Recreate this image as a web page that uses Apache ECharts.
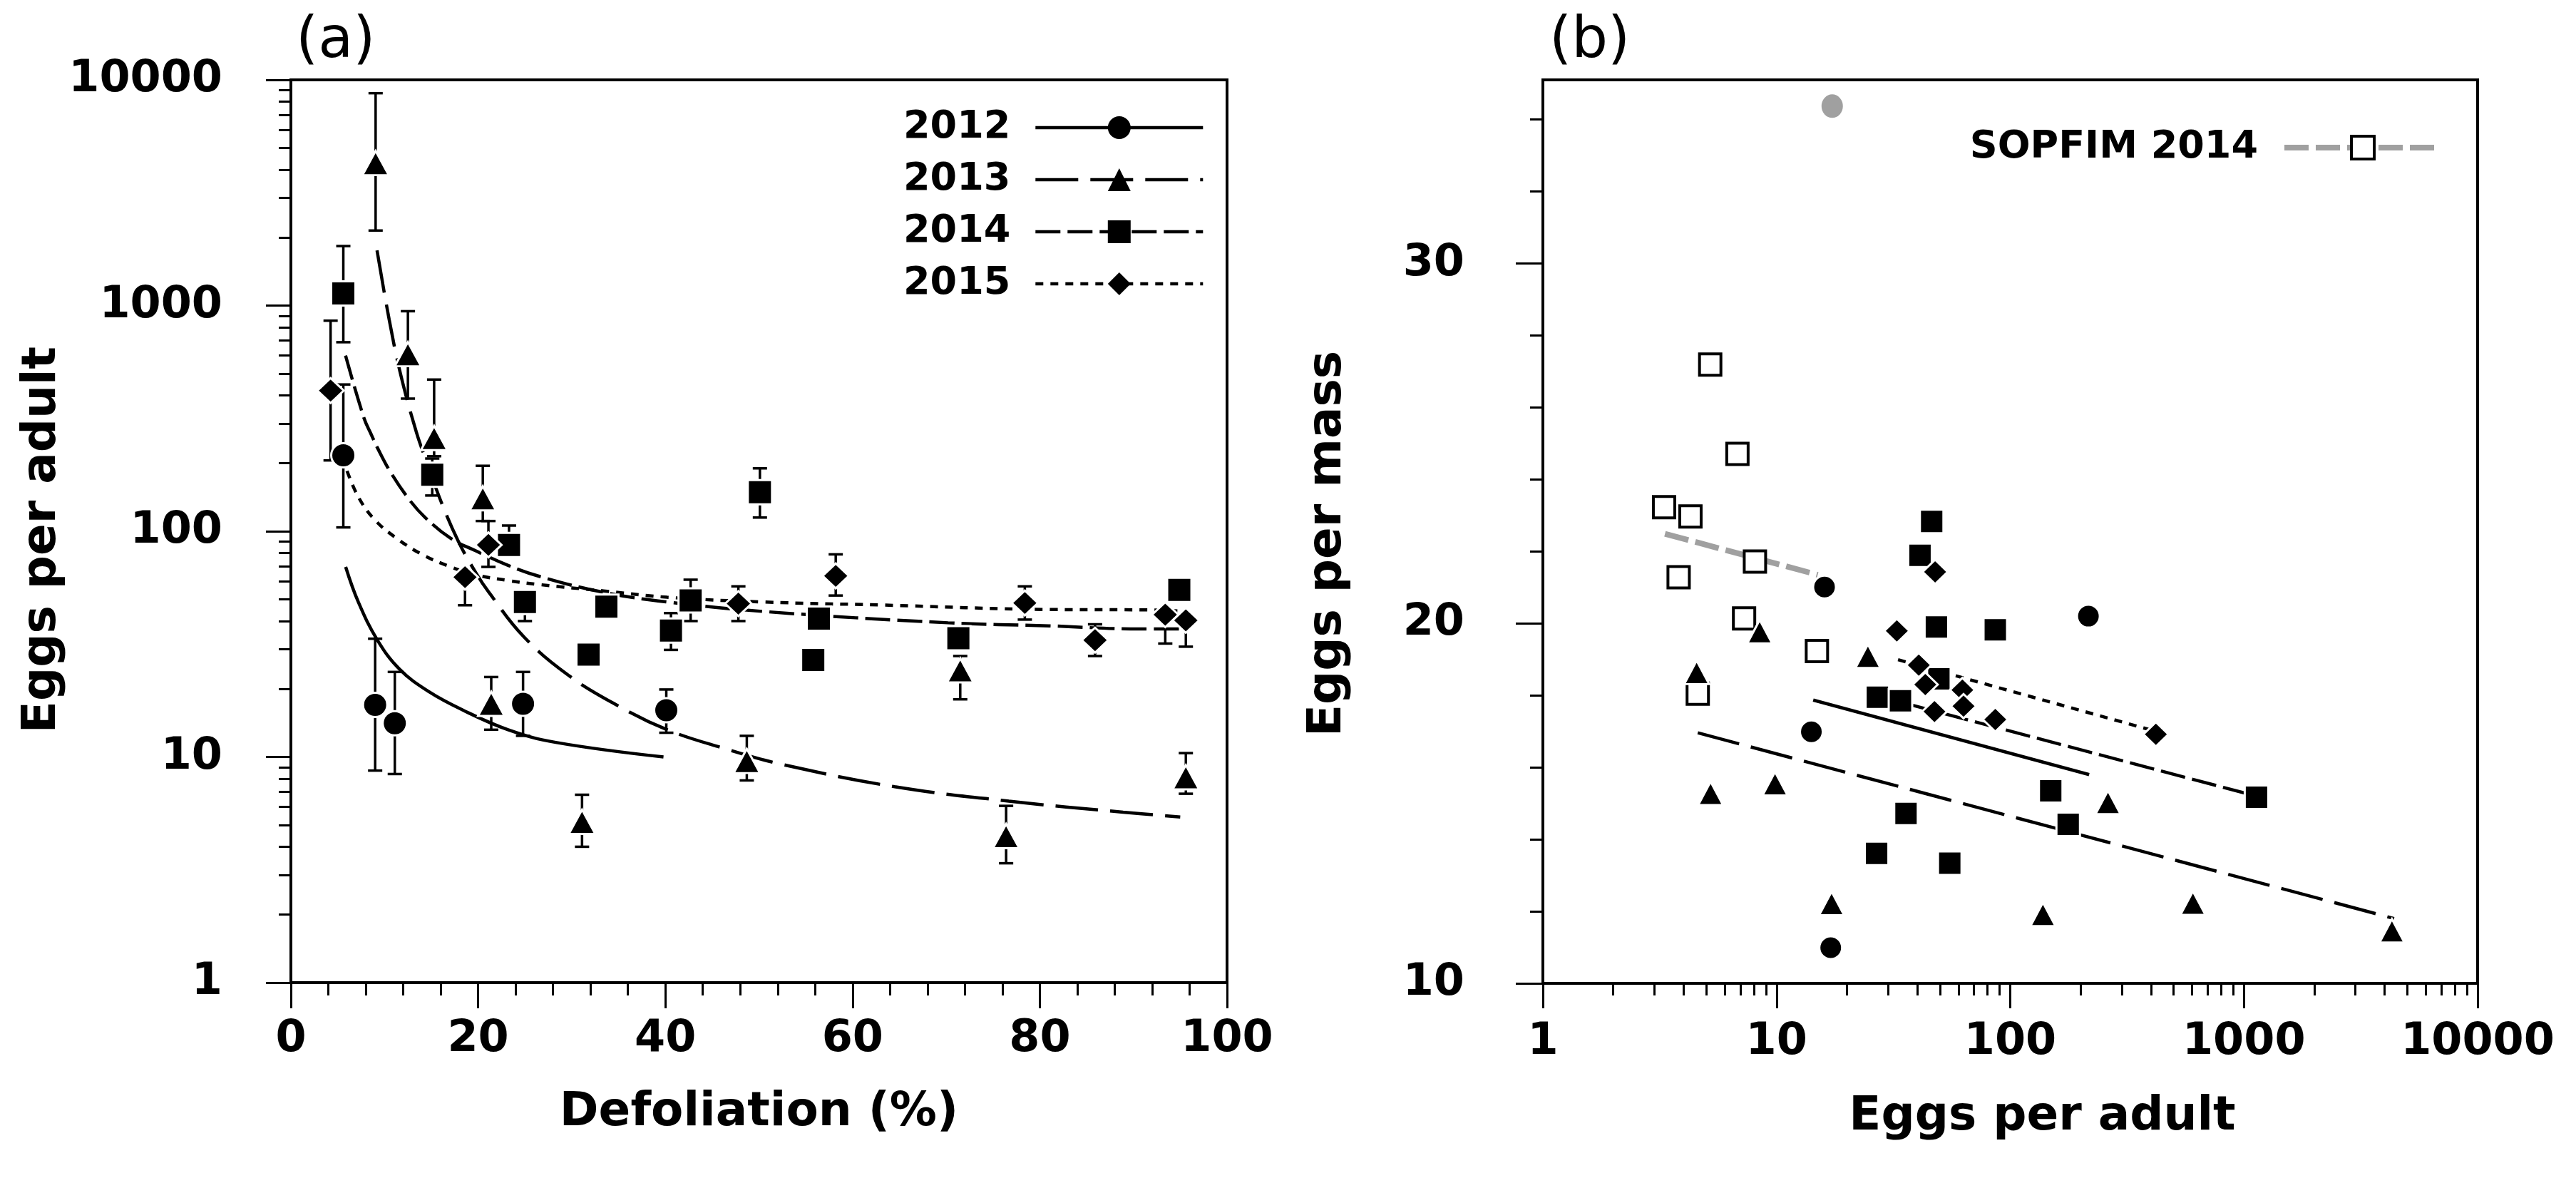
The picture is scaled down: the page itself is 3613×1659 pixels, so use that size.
<!DOCTYPE html>
<html lang="en">
<head>
<meta charset="UTF-8">
<title>Eggs per adult</title>
<script src="https://cdn.jsdelivr.net/npm/echarts@6/dist/echarts.min.js"></script>
<style>
    *{margin:0;padding:0;}
    html,body{width:100%;height:100%;background:#fff;overflow:hidden;}
    #main{width:100vw;height:100vh;}
</style>
</head>
<body>
<div id="main"></div>
<script>
// ---------- panel (a): defoliation (%) vs eggs per adult ----------
var x2012 = [5.6, 9.0, 11.1, 24.8, 40.1];
var y2012 = [217, 17.0, 14.1, 17.2, 16.1];
var lo2012 = [104, 8.7, 8.4, 12.4, 12.8];
var hi2012 = [447, 33.4, 23.8, 23.8, 19.9];

var x2013 = [9.05, 12.5, 15.3, 20.5, 21.4, 31.1, 48.7, 71.5, 76.4, 95.6];
var y2013 = [4280, 609, 259, 140, 17.2, 5.16, 9.6, 24.2, 4.46, 8.13];
var lo2013 = [2150, 387, 215, 111, 13.2, 4.0, 7.87, 18.0, 3.38, 6.87];
var hi2013 = [8730, 944, 470, 195, 22.6, 6.8, 12.4, 28.0, 6.07, 10.4];

var x2014 = [5.6, 15.1, 23.3, 25.0, 31.8, 33.7, 40.6, 42.7, 50.1, 55.8, 56.4, 71.3, 94.9];
var y2014 = [1132, 178, 87, 48.6, 28.4, 46.3, 36.3, 49.4, 149, 26.9, 41, 33.6, 55];
var lo2014 = [688, 144, null, 40, null, null, 29.8, 40, 115, null, null, null, null];
var hi2014 = [1835, 210, 106, null, null, null, 43.4, 61, 190, null, null, null, null];

var x2015 = [4.24, 18.6, 21.1, 47.8, 58.2, 78.4, 85.9, 93.4, 95.6];
var y2015 = [420, 62.6, 87, 47.8, 63.4, 48.1, 32.9, 42.7, 40.3];
var lo2015 = [206, 47, 69.5, 40, 51.9, 40.6, 28, 31.8, 30.8];
var hi2015 = [857, null, 111, 57, 79, 57, 38.7, null, null];

// fitted curves
var fit2012X = [5.85, 7.2, 9.25, 11.6, 14.7, 18.4, 23.2, 28.3, 39.8];
var fit2012Y = [69.5, 48.6, 32.9, 24.5, 19.5, 16.1, 13.2, 11.6, 10.0];
var fit2013X = [9.2, 10.5, 11.7, 13.4, 14.5, 16.05, 17.9, 19.8, 21.15, 24.9, 29.65, 34.9, 40.2, 46.3, 52.3, 64.5, 76.7, 88.9, 95.0];
var fit2013Y = [1755, 866, 500, 275, 203, 135, 90, 65, 53.6, 34, 23, 16.9, 13.2, 10.9, 9.3, 7.38, 6.37, 5.69, 5.42];
var fit2014X = [5.84, 7.8, 8.57, 9.25, 10.6, 12.65, 14.35, 17.07, 19.8, 23.2, 26.6, 33.4, 40.2, 50.5, 70.2, 81, 90.7, 95];
var fit2014Y = [600, 318, 269, 234, 184, 138, 115, 93, 81.7, 70.6, 63, 53.6, 48.6, 44.1, 39.3, 38.1, 36.9, 36.9];
var fit2015X = [6.0, 7.2, 8.9, 11.3, 14.0, 17.07, 19.8, 23.2, 26.6, 33.4, 40.2, 50.4, 63.1, 81, 91.8, 95];
var fit2015Y = [185, 142, 113, 93, 79, 69.5, 64, 60.5, 58, 54.4, 51, 48.6, 47.1, 45, 44.8, 44.3];

// ---------- panel (b): eggs per adult vs eggs per mass ----------
var bx2012 = [16.04, 14.09, 17.05, 216];
var by2012 = [21.01, 16.99, 10.99, 20.2];
var bx2013 = [8.47, 4.55, 24.6, 5.22, 9.85, 17.2, 138, 262, 605, 4300];
var by2013 = [19.77, 18.64, 19.09, 15.28, 15.55, 12.22, 11.92, 15.03, 12.23, 11.46];
var bx2014 = [46.1, 41.1, 48.3, 86.3, 27.0, 33.9, 49.5, 35.8, 26.8, 55.1, 149, 177, 1132];
var by2014 = [22.83, 21.89, 19.9, 19.82, 17.95, 17.85, 18.46, 14.72, 13.61, 13.34, 15.35, 14.42, 15.17];
var bx2015 = [47.7, 32.7, 40.6, 43.3, 62.4, 47.4, 63.1, 86.3, 420];
var by2015 = [21.43, 19.79, 18.84, 18.3, 18.15, 17.55, 17.7, 17.33, 16.92];
var bxSop = [5.2, 6.8, 3.30, 4.28, 8.08, 3.81, 7.26, 14.88, 4.60];
var bySop = [27.19, 24.71, 23.23, 22.97, 21.72, 21.28, 20.14, 19.23, 18.05];
var bxOut = [17.3];
var byOut = [34.37];

var bfit2012 = [[14.35, 17.87], [217.6, 15.80]];
var bfit2013 = [[4.60, 16.96], [4390, 11.8]];
var bfit2014 = [[28.2, 17.95], [1132, 15.2]];
var bfit2015 = [[33.1, 18.99], [420, 17.0]];
var bfitSop = [[3.33, 22.49], [15.0, 21.35]];

// ticks
var logMajor = [1, 10, 100, 1000, 10000];
var logMinorA = [2, 3, 4, 5, 6, 7, 8, 9, 20, 30, 40, 50, 60, 70, 80, 90,
    200, 300, 400, 500, 600, 700, 800, 900, 2000, 3000, 4000, 5000, 6000, 7000, 8000, 9000];
var massMajor = [10, 20, 30];
var massMinor = [12, 14, 16, 18, 22, 24, 26, 28, 32, 34];

var FONT = 'DejaVu Sans';
var BLACK = '#000';

function pts(xs, ys) {
    return xs.map(function (x, i) { return [x, ys[i]]; });
}

function errorBars(xs, ys, lo, hi) {
    return {
        type: 'custom', xAxisIndex: 0, yAxisIndex: 0, z: 4, silent: true,
        data: xs.map(function (x, i) { return [x, ys[i], lo[i], hi[i]]; }),
        encode: {x: 0, y: 1},
        renderItem: function (params, api) {
            var c = api.coord([api.value(0), api.value(1)]);
            var kids = [];
            [2, 3].forEach(function (d) {
                var v = api.value(d);
                if (v == null || isNaN(v)) return;
                var e = api.coord([api.value(0), v]);
                kids.push({type: 'line', shape: {x1: c[0], y1: c[1], x2: e[0], y2: e[1]},
                    style: {stroke: BLACK, lineWidth: 3.5}});
                kids.push({type: 'line', shape: {x1: e[0] - 10, y1: e[1], x2: e[0] + 10, y2: e[1]},
                    style: {stroke: BLACK, lineWidth: 3.5}});
            });
            return {type: 'group', children: kids};
        }
    };
}

function dots(xi, yi, data, symbol, size, style) {
    return {
        type: 'scatter', xAxisIndex: xi, yAxisIndex: yi, z: 5, silent: true,
        symbol: symbol, symbolSize: size, data: data,
        itemStyle: style || {color: BLACK, borderColor: '#fff', borderWidth: 3, opacity: 1}
    };
}

function curve(name, xi, yi, data, dash, symbol, smooth) {
    return {
        name: name, type: 'line', xAxisIndex: xi, yAxisIndex: yi, z: 3, silent: true,
        data: data, smooth: smooth ? 0.4 : false,
        showSymbol: false, symbol: symbol,
        lineStyle: {color: BLACK, width: 4.5, type: dash},
        itemStyle: {color: BLACK}
    };
}

var tickStyle = {color: BLACK, width: 3};
var labelStyle = {fontFamily: FONT, fontSize: 62, fontWeight: 'bold', color: BLACK};
var nameStyle = {fontFamily: FONT, fontSize: 66, fontWeight: 'bold', color: BLACK};
var lineStyle = {color: BLACK, width: 4};
var intLabel = function (v) { return String(Math.round(v)); };

var chart = echarts.init(document.getElementById('main'));
chart.setOption({
    animation: false,
    backgroundColor: '#fff',
    textStyle: {fontFamily: FONT},
    title: [
        {text: '(a)', left: 410, top: 14, textStyle: {fontFamily: FONT, fontSize: 80, fontWeight: 'normal', color: BLACK}},
        {text: '(b)', left: 2168, top: 14, textStyle: {fontFamily: FONT, fontSize: 80, fontWeight: 'normal', color: BLACK}}
    ],
    legend: [
        {
            left: 1262, top: 147, orient: 'vertical', align: 'right', selectedMode: false,
            itemWidth: 235, itemHeight: 40, itemGap: 19,
            textStyle: {fontFamily: FONT, fontSize: 54, fontWeight: 'bold', color: BLACK, lineHeight: 40, padding: [0, 30, 0, 0]},
            data: [
                {name: '2012', itemStyle: {color: BLACK}, lineStyle: {color: BLACK, width: 4.5, type: 'solid'}},
                {name: '2013', itemStyle: {color: BLACK}, lineStyle: {color: BLACK, width: 4.5, type: [60, 17]}},
                {name: '2014', itemStyle: {color: BLACK}, lineStyle: {color: BLACK, width: 4.5, type: [35, 10]}},
                {name: '2015', itemStyle: {color: BLACK}, lineStyle: {color: BLACK, width: 4.5, type: [11, 10]}}
            ]
        },
        {
            right: 180, top: 175, orient: 'vertical', align: 'right', selectedMode: false,
            itemWidth: 220, itemHeight: 40,
            textStyle: {fontFamily: FONT, fontSize: 54, fontWeight: 'bold', color: BLACK, lineHeight: 40, padding: [0, 32, 0, 0]},
            data: [
                {name: 'SOPFIM 2014', itemStyle: {color: '#fff', borderColor: BLACK, borderWidth: 4},
                    lineStyle: {color: '#a0a0a0', width: 8, type: [34, 10]}}
            ]
        }
    ],
    grid: [
        {left: 408, top: 112, width: 1313, height: 1266, show: true, borderColor: BLACK, borderWidth: 4},
        {left: 2164, top: 112, width: 1311, height: 1267, show: true, borderColor: BLACK, borderWidth: 4}
    ],
    xAxis: [
        {
            type: 'value', gridIndex: 0, min: 0, max: 100, interval: 20,
            axisLine: {lineStyle: lineStyle},
            axisTick: {length: 36, lineStyle: tickStyle},
            minorTick: {show: true, splitNumber: 5, length: 18, lineStyle: tickStyle},
            axisLabel: Object.assign({margin: 49}, labelStyle),
            splitLine: {show: false}, minorSplitLine: {show: false},
            name: 'Defoliation (%)', nameLocation: 'middle', nameGap: 150, nameTextStyle: nameStyle
        },
        {
            type: 'log', logBase: 10, gridIndex: 1, min: 1, max: 10000, position: 'bottom',
            axisLine: {lineStyle: lineStyle},
            axisTick: {customValues: logMajor, length: 35, lineStyle: tickStyle},
            axisLabel: Object.assign({customValues: logMajor, margin: 52, formatter: intLabel}, labelStyle),
            splitLine: {show: false},
            name: 'Eggs per adult', nameLocation: 'middle', nameGap: 155,
            nameTextStyle: Object.assign({padding: [0, 0, 0, 90]}, nameStyle)
        },
        {
            type: 'log', logBase: 10, gridIndex: 1, min: 1, max: 10000, position: 'bottom',
            axisLine: {show: false},
            axisTick: {customValues: logMinorA, length: 17, lineStyle: tickStyle},
            axisLabel: {show: false}, splitLine: {show: false}
        }
    ],
    yAxis: [
        {
            type: 'log', logBase: 10, gridIndex: 0, min: 1, max: 10000, position: 'left',
            axisLine: {lineStyle: lineStyle},
            axisTick: {customValues: logMajor, length: 35, lineStyle: tickStyle},
            axisLabel: Object.assign({customValues: logMajor, margin: 96, formatter: intLabel}, labelStyle),
            splitLine: {show: false},
            name: 'Eggs per adult', nameLocation: 'middle', nameGap: 305,
            nameTextStyle: Object.assign({padding: [0, 24, 0, 0]}, nameStyle)
        },
        {
            type: 'log', logBase: 10, gridIndex: 0, min: 1, max: 10000, position: 'left',
            axisLine: {show: false},
            axisTick: {customValues: logMinorA, length: 17, lineStyle: tickStyle},
            axisLabel: {show: false}, splitLine: {show: false}
        },
        {
            type: 'value', gridIndex: 1, min: 10, max: 35.1, position: 'left',
            axisLine: {lineStyle: lineStyle},
            axisTick: {customValues: massMajor, length: 38, lineStyle: tickStyle},
            axisLabel: Object.assign({customValues: massMajor, margin: 110}, labelStyle),
            splitLine: {show: false},
            name: 'Eggs per mass', nameLocation: 'middle', nameGap: 268,
            nameTextStyle: Object.assign({padding: [0, 34, 0, 0]}, nameStyle)
        },
        {
            type: 'value', gridIndex: 1, min: 10, max: 35.1, position: 'left',
            axisLine: {show: false},
            axisTick: {customValues: massMinor, length: 18, lineStyle: tickStyle},
            axisLabel: {show: false}, splitLine: {show: false}
        }
    ],
    series: [
        // legend entries come from these fitted lines
        curve('2012', 0, 0, pts(fit2012X, fit2012Y), 'solid', 'circle', true),
        curve('2013', 0, 0, pts(fit2013X, fit2013Y), [60, 17], 'triangle', true),
        curve('2014', 0, 0, pts(fit2014X, fit2014Y), [35, 10], 'rect', true),
        curve('2015', 0, 0, pts(fit2015X, fit2015Y), [11, 10], 'diamond', true),
        {
            name: 'SOPFIM 2014', type: 'line', xAxisIndex: 1, yAxisIndex: 2, z: 3, silent: true,
            data: bfitSop, showSymbol: false, symbol: 'rect',
            lineStyle: {color: '#a0a0a0', width: 8, type: [34, 10]},
            itemStyle: {color: '#fff', borderColor: BLACK, borderWidth: 4}
        },
        curve('b2012', 1, 2, bfit2012, 'solid', 'circle', false),
        curve('b2013', 1, 2, bfit2013, [60, 17], 'triangle', false),
        curve('b2014', 1, 2, bfit2014, [35, 10], 'rect', false),
        curve('b2015', 1, 2, bfit2015, [11, 10], 'diamond', false),

        errorBars(x2012, y2012, lo2012, hi2012),
        errorBars(x2013, y2013, lo2013, hi2013),
        errorBars(x2014, y2014, lo2014, hi2014),
        errorBars(x2015, y2015, lo2015, hi2015),

        dots(0, 0, pts(x2012, y2012), 'circle', 34),
        dots(0, 0, pts(x2013, y2013), 'triangle', [37, 34]),
        dots(0, 0, pts(x2014, y2014), 'rect', 34),
        dots(0, 0, pts(x2015, y2015), 'diamond', [37, 35]),

        dots(1, 2, pts(bxSop, bySop), 'rect', 30, {color: '#fff', borderColor: BLACK, borderWidth: 4, opacity: 1}),
        dots(1, 2, pts(bxOut, byOut), 'circle', [30, 33], {color: '#a0a0a0', opacity: 1}),
        dots(1, 2, pts(bx2012, by2012), 'circle', 32),
        dots(1, 2, pts(bx2013, by2013), 'triangle', [35, 33]),
        dots(1, 2, pts(bx2014, by2014), 'rect', 33),
        dots(1, 2, pts(bx2015, by2015), 'diamond', [35, 34])
    ]
});
</script>
</body>
</html>
